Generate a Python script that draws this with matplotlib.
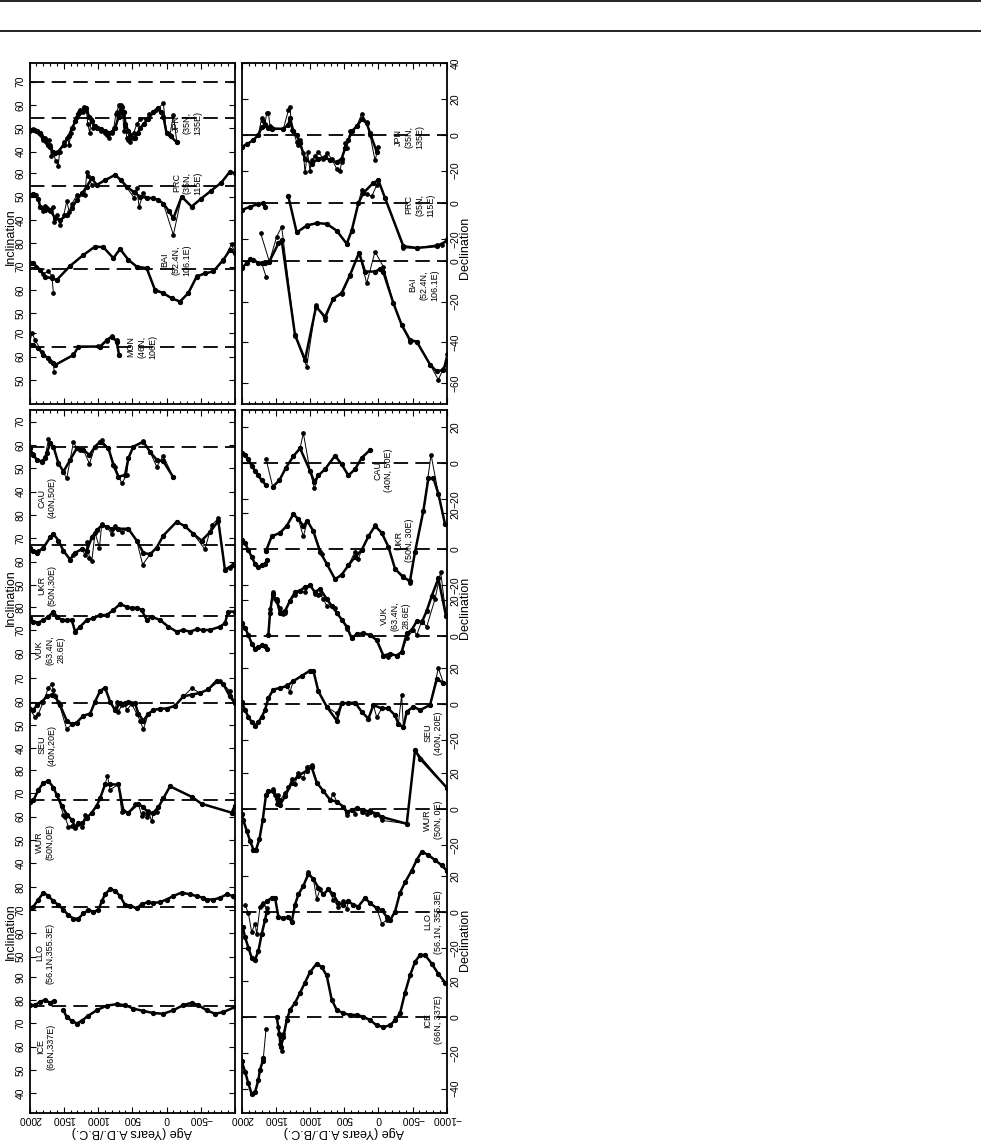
import numpy as np
import matplotlib
matplotlib.use("Agg")
import matplotlib.pyplot as plt
from matplotlib.lines import Line2D
from matplotlib.ticker import MultipleLocator

plt.rcParams['font.family'] = ['Liberation Sans', 'DejaVu Sans']

nan = np.nan
GAP = (nan, nan)

# ---------------- data: (age, value) pairs ----------------
STATIONS = ["JPN", "PRC", "BAI", "MON", "CAU", "UKR", "VUK", "SEU", "WUR", "LLO", "ICE"]
GAD_INC = [54.5, 54.5, 68.9, 64.2, 59.2, 67.2, 75.9, 59.2, 67.2, 71.4, 77.4]

# inclination, top-left panel
JPN_INC = [(2000,49.3),(1940,49.3),(1890,49),(1840,48),(1800,46),(1770,45),(1730,43),(1700,42),(1660,40),
           (1630,39.5),(1580,40),(1500,43),(1430,46.5),(1380,50),(1330,53),(1290,56),(1260,57),(1200,58.5),
           (1170,58.6),(1130,55),(1090,53),(1050,51),(1020,50),(950,49.5),(900,49),(850,48),(800,48.5),
           (750,50),(700,55),(655,59),(620,57),(600,52),(560,49),(530,47),(480,46),(460,46),(420,48),
           (385,50),(330,52),(265,54),(190,57),(120,58.6),(80,57),(45,55),(0,48),(-60,46.5),(-150,44)]
JPN_INC_T = [(2000,49),(1950,49.5),(1900,49),(1860,48),(1830,47),(1800,45),(1780,46),(1760,44),(1720,45),
             (1700,43),(1680,38),(1650,40),(1620,36),(1580,34),(1560,40),(1500,44),(1450,46),(1420,43),
             (1400,48),(1370,50),(1340,53),(1310,55),(1280,57),(1260,58),(1220,57),(1200,59),(1170,58),
             (1150,52),(1120,48),(1100,54),(1070,50),(1040,51),(1000,50),(950,49),(900,48),(870,47),
             (840,46),(800,48),(770,50),(740,56),(720,57),(700,60),(680,57),(660,60),(640,56),(620,49),
             (600,51),(580,46),(560,45),(540,44),(520,46),(480,48),(430,52),(380,54),(300,54),(250,56),
             (200,57),(150,58),(120,58.6),(46,60.7),(0,47.9),(-50,47),(-100,55.7),(-150,44.3)]
PRC_INC = [(2000,50.7),(1950,51),(1917,50.7),(1870,49),(1844,45.7),(1800,45),(1772,44.3),(1700,44.3),
           (1626,40.7),(1553,40),(1456,42),(1380,45),(1310,48.6),(1230,51.5),(1164,54.3),(1091,57.9),
           (1018,55),(900,57),(751,59.3),(660,57),(581,54.3),(480,52),(386,50),(290,49.5),(192,49.3),
           (120,48.5),(46,47),(-30,44),(-100,40.7),(-221,50),(-367,45.7),(-500,49),(-650,52.5),
           (-800,56),(-926,60.7),(-1000,60)]
PRC_INC_T = [(2000,50.7),(1950,51),(1900,50.5),(1844,45.7),(1800,44),(1772,46),(1740,45),(1699,44),
             (1660,45.7),(1640,38.9), GAP, (1600,42),(1553,37.6),(1500,42),(1456,48),(1420,43.5),
             (1380,47),(1310,50.5),(1240,51),(1190,50.5),(1164,60.7),(1140,58.9),(1091,55),(1018,55),
             (900,57),(751,59.3),(581,54),(470,49.3),(435,53.6),(400,45.7),(338,51.4),(290,49.5),
             (192,49.3),(46,47),(-100,33.6),(-221,50),(-367,45.7)]
BAI_INC = [(2000,71.4),(1942,71.4),(1844,68.6),(1772,65.7),(1674,65),(1601,64.3),(1407,70.3),(1213,75),
           (1043,78.6),(921,78.3),(775,73.6),(678,77.6),(557,72.9),(435,70),(289,69.3),(168,60),
           (46,58.6),(-75,56.4),(-197,55),(-318,58.6),(-440,65.7),(-561,67.1),(-683,67.9),(-829,72.9),
           (-926,77.1),(-1000,75.7)]
BAI_INC_T = [(2000,71.5),(1900,70),(1800,67),(1723,67.9),(1674,66),(1650,58.6), GAP, (1601,64.3),
             (1407,70.3),(1213,75),(1043,78.6),(921,78.3),(775,73.6),(678,77.6),(557,72.9),(435,70),
             (289,69.3),(168,59.5),(46,58.6),(-75,56.4),(-197,55),(-318,58.6),(-440,66),(-561,67.1),
             (-683,67.9),(-829,72.5),(-950,79.6),(-1000,75.7)]
MON_INC = [(2000,65),(1942,64.8),(1869,63.6),(1796,60.7),(1723,59.3),(1650,57.1),(1626,56.4),(1358,60.7),
           (1286,64.3),(970,64.3),(872,67.1),(800,68.6),(727,66.4),(693,60.7)]
MON_INC_T = [(2000,65),(1966,70.3),(1918,67.1),(1820,62.1),(1700,58),(1650,57.1),(1640,53.6), GAP,
             (1626,56.4),(1358,61),(1286,64),(1000,64.5),(970,64),(872,66.5),(800,69),(727,67),(693,60.7)]

# declination, top-right panel
JPN_DEC = [(2000,-6.7),(1927,-5.3),(1829,-2.9),(1756,0),(1707,4.2),(1659,5.7),(1610,3.8),(1561,3.4),
           (1390,3.4),(1317,5.7),(1293,9.5),(1244,1.9),(1195,0),(1146,-4.8),(1073,-13.3),(976,-16.2),
           (878,-13.3),(780,-12.4),(707,-14.3),(610,-15.2),(537,-13.3),(488,-7.6),(439,-2.9),(390,1.9),
           (317,4.8),(244,8.6),(171,6.7),(122,1),(24,-9.5)]
JPN_DEC_T = [(1756,0),(1707,9.5),(1683,8),(1659,6),(1634,12.4),(1610,12.4),(1585,5),(1561,4),(1390,3.4),
             (1317,13.7),(1293,15.8),(1268,3),(1244,1.9),(1195,-4),(1170,-5.7),(1146,-2.9),(1098,-10),
             (1073,-21),(1037,-9.5),(1000,-20),(976,-14),(927,-12),(878,-9.5),(805,-13.3),(756,-10),
             (683,-13.3),(610,-19),(561,-20),(537,-15),(488,-4.8),(464,-7.6),(415,1.9),(390,2),(317,4.8),
             (244,11.8),(171,7),(122,0),(49,-14.3),(0,-6.7)]
PRC_DEC = [(2000,-3.8),(1878,-1.9),(1756,-0.4),(1683,0),(1659,-1.9), GAP, (1317,3.8),(1195,-16.2),
           (1049,-12.4),(902,-11),(756,-11.4),(610,-15.2),(463,-22.5),(390,-15.2),(293,0),(220,5.7),
           (73,11.4),(0,12.8),(-98,2.9),(-366,-23.8),(-561,-24.8),(-854,-23.8),(-1000,-21)]
PRC_DEC_T = [(1317,3.8),(1195,-16),(1049,-12),(902,-11),(756,-11.5),(610,-15.5),(463,-22.5),(390,-15),
             (293,0),(244,7.6),(171,5),(98,3.8),(24,10),(0,13),(-98,3),(-366,-24.8),(-561,-25),
             (-854,-23),(-927,-23),(-1000,-20)]
BAI_DEC = [(2000,-3.6),(1927,-1),(1878,0.8),(1829,0.5),(1756,-1),(1707,-1.1),(1659,-1.1), GAP,
           (1595,-0.3),(1463,8.7),(1415,10.3),(1220,-36.4),(1073,-48.7),(912,-22.5),(780,-27.5),
           (659,-18.5),(537,-15.7),(415,-6.9),(283,4.1),(195,-5.2),(49,-5.2),(-24,-4),(-73,-5.5),
           (-220,-20.8),(-341,-31.5),(-463,-38.9),(-561,-39.7),(-756,-51),(-854,-54.4),(-951,-53.6),
           (-1000,-49.5)]
BAI_DEC_T = [(1707,-1.1),(1644,-7.7), GAP, (1722,13.6),(1595,-0.3),(1488,12),(1415,16.9),(1220,-37),
             (1049,-52),(912,-21.6),(780,-29),(659,-18.5),(537,-16.5),(415,-7.5),(283,4.1),(171,-11),
             (49,4.6),(-73,-2.8),(-220,-20.8),(-341,-31.5),(-463,-40),(-561,-39.7),(-756,-51),
             (-878,-58.5),(-951,-53),(-1000,-46)]

# inclination, bottom-left panel
CAU_INC = [(2000,58.6),(1942,55.7),(1893,53.6),(1820,52.9),(1772,54.3),(1747,56.4),(1699,60.7),(1650,59.3),
           (1577,52.1),(1504,48.6),(1407,53.6),(1310,58.6),(1213,57.9),(1125,55.7),(1043,59.3),(970,61.4),
           (848,58.6),(775,51.4),(702,46.4),(605,47.1),(557,54.3),(484,59.3),(338,61.4),(241,57.1),
           (143,53.6),(46,53),(-100,46.1)]
CAU_INC_T = [(2000,58.6),(1942,56),(1893,53.5),(1820,53),(1772,55),(1723,62.4),(1699,61),(1650,59.3),
             (1577,52),(1456,45.7),(1358,61.4),(1310,58.6),(1261,57.9),(1213,57.9),(1125,52),(1043,59.3),
             (945,62),(848,58.6),(751,50.7),(654,43.6),(581,47),(557,54.3),(484,59.3),(338,61.8),
             (241,57.1),(143,50.7),(46,55.3),(-100,46.1)]
UKR_INC = [(2000,66),(1942,64.6),(1893,63.8),(1796,66),(1699,70.4),(1650,71.9),(1577,69),(1504,64.6),
           (1407,60.9),(1334,63.8),(1237,65.3),(1164,64.6),(1091,70.4),(1018,73.4),(945,75.6),(872,74.9),
           (800,74.1),(702,74.1),(557,74.1),(435,69),(338,63.8),(241,63.1),(143,66),(46,71.2),(-148,77.1),
           (-270,75.2),(-391,71.9),(-513,69),(-634,72.6),(-756,77.5),(-853,56.5),(-975,58.7)]
UKR_INC_T = [(2000,66),(1942,64.6),(1869,64.6),(1796,66),(1699,70.4),(1650,71.9),(1577,69),(1504,64.6),
             (1407,60.9),(1358,63),(1334,63.8),(1237,65.3),(1188,63),(1154,68.2),(1125,61.6),(1091,60.1),
             (1043,72.4),(979,66),(945,76.2),(872,74.9),(800,71.9),(751,75.2),(654,72.6),(557,74.1),
             (435,69),(348,58.7),(241,63.1),(143,66),(46,71.2),(-148,77.1),(-270,75.2),(-391,71.9),
             (-561,65.3),(-658,75.6),(-756,78.5),(-853,56.5),(-926,57.2),(-975,58.7)]
VUK_INC = [(2000,75),(1942,73.6),(1869,73.2),(1796,74.3),(1723,75.7),(1650,77.9),(1601,75.7),(1528,74.3),
           (1456,74.3),(1383,74.3),(1334,69.3),(1261,71.4),(1164,74.3),(1067,75),(970,76.4),(872,76.4),
           (775,78.6),(678,81.1),(581,80),(508,79.3),(435,79.6),(362,78.6),(289,74.3),(216,75.7),
           (95,74.3),(-27,71.4),(-148,69.3),(-245,70),(-343,69.3),(-440,70.3),(-537,70),(-634,70),
           (-780,71.4),(-853,72.9),(-901,77.9),(-1000,77.9)]
SEU_INC = [(2000,57),(1942,56.3),(1893,58.5),(1820,60),(1747,62.2),(1674,63),(1626,62.2),(1553,58.5),
           (1456,51.8),(1383,50.3),(1310,51),(1213,54),(1115,54.8),(1043,60),(970,64.5),(897,66),
           (824,60),(751,56.3),(678,59.3),(605,59.3),(557,60),(459,59.3),(411,54.8),(338,51.8),
           (265,54.8),(192,56.3),(95,57),(-2,57),(-124,58.2),(-245,62.2),(-367,63),(-488,63.7),
           (-610,65.2),(-731,69),(-829,67.5),(-926,62.2),(-1000,59.3)]
SEU_INC_T = [(2000,57),(1918,53.3),(1869,54.8),(1796,60),(1723,66),(1674,67.5),(1650,64.8),(1577,60),
             (1456,48.1),(1383,50.3),(1310,51),(1213,54),(1115,54.8),(1043,60),(970,64.5),(897,66),
             (824,60),(751,56.3),(727,60),(702,55.5),(654,58.5),(605,59),(581,56.3),(508,59),(435,54.8),
             (386,51.8),(338,48.1),(265,54.8),(192,56.3),(95,57),(-2,57),(-124,58.2),(-245,62.2),
             (-367,65.7),(-488,63.7),(-610,65.2),(-780,69),(-926,64.5),(-1000,59.3)]
WUR_INC = [(2000,66.2),(1942,67),(1869,71.5),(1796,74.5),(1723,75.3),(1650,72.4),(1601,69.2),(1528,64.7),
           (1456,60.9),(1383,58.6),(1334,55.6),(1286,57.1),(1237,57.1),(1164,59.4),(1091,61.7),(1018,64.7),
           (970,67.8),(897,73.8),(824,73.8),(702,73.8),(629,62.4),(557,61.7),(411,65.5),(338,64),
           (265,61.7),(192,61.7),(119,64),(46,67.8),(-51,73),(-367,68.5),(-513,65.5),(-950,61.7),
           (-1000,64.7)]
WUR_INC_T = [(2000,66.2),(1942,67),(1869,71.5),(1796,74.5),(1723,75.3),(1650,72.4),(1601,69.2),(1504,60.9),
             (1480,59.7),(1431,55.6),(1383,56),(1334,55.2),(1286,57),(1237,55.6),(1188,60.9),(1164,59.4),
             (1091,61.7),(1018,64.7),(970,67.8),(897,73.8),(862,77.6),(824,71.5),(702,73.8),(654,62),
             (557,61.7),(459,65.5),(411,65.5),(362,60.2),(338,61.7),(289,60),(265,62.4),(216,57.9),
             (192,61.7),(143,62),(119,64),(46,67.8),(-51,73),(-367,68.5),(-513,65.5),(-950,61.7),
             (-1000,64.7)]
LLO_INC = [(2000,70.7),(1942,71.5),(1869,74.5),(1796,77.5),(1723,76),(1650,73.7),(1577,72.2),(1504,70),
           (1431,67.8),(1358,66.3),(1286,66.3),(1213,68.5),(1140,70),(1067,69.2),(994,70),(945,73.7),
           (897,76.7),(824,79),(751,78.3),(678,76),(605,72.2),(532,71.9),(435,70.7),(362,72.5),
           (265,73.4),(192,73),(95,73.4),(-2,74.5),(-100,76),(-221,77.5),(-343,76.7),(-440,76),
           (-537,75.2),(-585,74.5),(-683,74.5),(-780,75.2),(-877,76.7),(-975,76),(-1000,75.5)]
ICE_INC = [(2000,77.8),(1918,77.8),(1844,79.3),(1772,80),(1699,78.8),(1644,79.7), GAP, (1504,75.6),
           (1456,72.6),(1383,71.1),(1310,69.9),(1237,71.1),(1140,73.3),(1018,75.6),(872,77.6),(727,78.2),
           (605,77.8),(484,76.3),(338,75.3),(192,74.4),(46,74.1),(-100,75.6),(-245,77.8),(-367,78.8),
           (-464,77.8),(-585,75.6),(-707,74.1),(-829,74.8),(-1000,77)]

# declination, bottom-right panel
CAU_DEC = [(2000,5.4),(1951,4.5),(1902,1.8),(1854,-1.8),(1805,-4.5),(1756,-7.1),(1707,-9.8),(1644,-12.5),
           GAP, (1546,-13.4),(1449,-9.8),(1351,-2.7),(1244,3.6),(1146,8),(1000,-4.5),(937,-10.7),
           (878,-7.1),(780,-3.6),(634,3.9),(537,-0.9),(439,-7.1),(341,-3.6),(244,2.7),(122,7.1)]
CAU_DEC_T = [(1644,2.1),(1546,-13.4),(1449,-9.8),(1351,-2.7),(1244,3.6),(1146,8),(1098,16.4),(1000,-4.5),
             (937,-14.3),(878,-7.1),(780,-3.6),(634,3.9),(537,-0.9),(439,-7.1),(341,-3.6),(244,2.7),
             (122,7.1)]
UKR_DEC = [(2000,5.1),(1951,3.2),(1902,-0.6),(1854,-4.4),(1805,-8.2),(1756,-10.1),(1707,-9.1),(1659,-8.6),
           (1634,-6.3), GAP, (1644,-1),(1561,7),(1439,9),(1341,12.8),(1244,19.4),(1171,16.6),(1098,12.8),
           (1039,15.6),(951,9.9),(854,-1.5),(756,-8.2),(634,-16.8),(537,-14.3),(439,-9.1),(341,-4.4),
           (244,-0.6),(146,7),(49,12.8),(-49,9),(-146,1.3),(-244,-11),(-366,-15.8),(-463,-17.7),
           (-537,-1.5),(-659,21.3),(-732,39.4),(-805,39.4),(-878,30.7),(-976,13.7)]
UKR_DEC_T = [(1644,-1),(1561,7),(1439,9),(1341,12.8),(1244,19.4),(1171,16.6),(1098,7),(1039,15.6),
             (951,9.9),(829,-2.5),(756,-8.2),(634,-16.8),(537,-14.3),(439,-9.1),(341,-1.5),(293,-5.3),
             (244,-0.6),(146,7),(49,13.3),(-49,9),(-146,1.3),(-244,-11),(-366,-15),(-463,-19),(-537,-1.5),
             (-659,21.3),(-771,52.4),(-878,30.7),(-976,13.7)]
VUK_DEC = [(2000,7),(1951,4.2),(1902,0.4),(1854,-4.4),(1805,-7.2),(1756,-6.3),(1707,-5.3),(1659,-5.9),
           (1624,-7.2), GAP, (1610,0.4),(1585,12.8),(1546,23.2),(1488,19.4),(1439,12.8),(1366,13.7),
           (1293,19.4),(1220,24.2),(1146,25.1),(1073,27),(1000,28),(927,24.2),(854,26.1),(756,20.4),
           (683,16.6),(610,12.8),(537,9),(463,5.1),(390,-1.5),(317,1),(220,1.3),(122,0.4),(24,-2.5),
           (-73,-11),(-171,-10.1),(-268,-11),(-341,-9.1),(-415,1.3),(-488,3.2),(-561,8),(-634,7.4),
           (-707,13.7),(-780,22),(-878,31.8),(-990,10.9)]
VUK_DEC_T = [(1610,0.4),(1585,15),(1546,24.2),(1512,20.4),(1488,20.4),(1439,15.6),(1390,11.8),(1366,12.8),
             (1293,19.4),(1220,22.4),(1146,25.1),(1073,24.2),(1000,28),(927,23.2),(878,22.4),(854,23.2),
             (805,20.4),(756,16.6),(634,15.6),(610,12.8),(537,9),(463,4),(390,-1.5),(317,1),(220,1.3),
             (122,0.4),(24,-2.5),(-73,-11),(-146,-12),(-171,-10.1),(-268,-11),(-341,-9.1),(-415,-1.5),
             (-512,3.2),(-561,0.4),(-634,8),(-707,5),(-829,20.4),(-912,35.6),(-990,10.9)]
SEU_DEC = [(2000,1.5),(1951,-3.2),(1902,-7),(1854,-9.9),(1805,-11.8),(1756,-9.9),(1707,-7),(1659,-3.2),
           (1610,3.4),(1537,8.2),(1439,9.1),(1341,10.1),(1244,12.9),(1122,15.8),(1000,18.7),(951,18.7),
           (878,7.2),(756,-1.3),(610,-9),(537,0.6),(439,0.6),(341,1),(244,-4.2),(146,-8),(73,-0.4),
           (-49,-2.3),(-146,-2.3),(-244,-6.1),(-293,-10.9),(-366,-12.8),(-415,-4.2),(-512,-1.3),
           (-610,-3.2),(-756,-0.4),(-854,13.9),(-951,12)]
SEU_DEC_T = [(1610,3.4),(1537,8.2),(1439,9.1),(1341,10.5),(1293,7),(1244,12.9),(1122,15.8),(1000,18.7),
             (951,18.7),(878,7.2),(756,-1.3),(610,-5),(537,0.6),(439,0.6),(341,1),(244,-4.2),(146,-8),
             (73,-0.4),(24,-7.2),(-49,-2.3),(-146,-2.3),(-244,-6.1),(-293,-10.9),(-341,5.3),(-366,-12.8),
             (-415,-4.2),(-512,-1.3),(-610,-3.2),(-756,-0.4),(-878,20),(-951,12)]
WUR_DEC = [(2000,-3),(1976,-6.3),(1927,-12),(1878,-17.7),(1829,-22.5),(1790,-22.5),(1741,-16.8),(1693,-6.3),
           (1644,8),(1610,9.9),(1537,9.9),(1488,6.1),(1439,2.3),(1366,7),(1268,14.7),(1171,18.5),
           (1049,21.3),(976,23.2),(902,14.7),(805,10),(707,5.1),(610,4.1),(512,1.3),(463,-1.5),(390,-0.6),
           (317,0.4),(220,-0.6),(122,-1.5),(24,-2.5),(-49,-4.4),(-415,-8.2),(-537,32.7),(-610,28),
           (-1000,11.9)]
WUR_DEC_T = [(1693,-6.3),(1644,8),(1610,9.9),(1537,10.9),(1512,8),(1488,2.9),(1463,7.6),(1439,4.8),
             (1366,9),(1317,12),(1268,16.5),(1220,14),(1171,20),(1098,17),(1049,23.5),(976,24.5),
             (902,14.7),(707,5.1),(659,8.5),(610,4.1),(512,1.3),(463,-3.4),(390,-0.6),(341,-2.5),
             (317,0.4),(244,-1.5),(220,-1.5),(171,-2.9),(122,-0.6),(49,-3.4),(24,-2.5),(-49,-6.3),
             (-415,-8.2),(-537,32.7),(-1000,11.9)]
LLO_DEC = [(1985,-8.2),(1951,-13.9),(1902,-19.6),(1854,-25.3),(1805,-26.3),(1756,-21.5),(1707,-12),
           (1659,-4.4),(1634,0.4), GAP, (1634,6.1),(1561,8),(1512,8),(1463,-2.5),(1390,-3.4),(1317,-2.5),
           (1268,-5.3),(1220,4.2),(1171,9.9),(1098,14.7),(1024,21.3),(951,18.5),(878,13.7),(805,9.9),
           (732,12.8),(659,9.9),(585,5.1),(512,4.2),(439,6.1),(366,4.2),(293,3.2),(195,8),(122,5.1),
           (24,2.3),(-49,1.3),(-122,-2.5),(-171,-4.4),(-244,0.4),(-317,10.9),(-390,16.6),(-488,23.2),
           (-561,29),(-634,33.7),(-732,31.8),(-829,29),(-927,26.1),(-1000,23.2)]
LLO_DEC_T = [(1951,4.2),(1902,-0.6),(1854,-11),(1805,-6.3),(1780,-12),(1732,3.2),(1707,4.2),(1683,5.1),
             (1634,2.3), GAP, (1634,6.1),(1561,8),(1512,8),(1463,-2.5),(1390,-3.4),(1317,-2.5),
             (1268,-5.3),(1220,4.2),(1171,9.9),(1098,14.7),(1024,22.3),(951,18.5),(902,7.2),(854,12.8),
             (805,9.9),(732,12.8),(659,7),(585,3),(512,6.1),(463,2),(439,6.1),(366,4.2),(293,3.2),
             (195,8),(122,5.1),(24,2.3),(-49,-6.3),(-122,-4.4),(-171,-4.4),(-244,0.4)]
ICE_DEC = [(2000,-24.8),(1951,-30.5),(1902,-37.1),(1854,-42.9),(1805,-41.9),(1756,-35.2),(1732,-29.5),
           (1693,-24.8),(1683,-22.9), GAP, (1488,0),(1449,-9.5),(1429,-17),(1390,-11.4),(1341,-1.9),
           (1293,3.8),(1220,7.6),(1146,13.3),(1073,19),(1000,24.8),(902,29.5),(829,27.6),(756,22.9),
           (683,9.5),(610,3.8),(512,1.9),(415,1),(317,1),(220,0),(122,-1.9),(24,-4.8),(-73,-5.7),
           (-171,-4.8),(-244,-1.9),(-317,1.9),(-390,13.3),(-463,22.9),(-537,30.5),(-610,34.3),
           (-683,34.3),(-780,29.5),(-878,23.8),(-976,19)]
ICE_DEC_T = [(1683,-22.9),(1644,-6.7), GAP, (1488,0),(1463,-5.7),(1439,-15.2),(1414,-19),(1390,-9.5),
             (1341,-1.9)]

AGE_TICKS = [2000, 1500, 1000, 500, 0, -500, -1000]

# ---------------- layout ----------------
W, H = 981, 1140
fig = plt.figure(figsize=(W / 100, H / 100), dpi=100)

TL = (29.5, 63.3, 235.0, 404.3)
TR = (241.7, 63.3, 446.7, 404.3)
BL = (29.5, 410.0, 235.0, 1113.0)
BR = (241.7, 410.0, 446.7, 1113.0)
INC_SCALE = 2.33   # px per degree
DEC_SCALE = 1.8


def rect(box):
    x0, y0, x1, y1 = box
    return [x0 / W, 1 - y1 / H, (x1 - x0) / W, (y1 - y0) / H]


def xy(pairs):
    a = np.array(pairs, dtype=float)
    return a[:, 0], a[:, 1]


def frame(box, labels, hide_last=False):
    ax = fig.add_axes(rect(box))
    ax.set_xlim(2000, -1000)
    ax.set_yticks([])
    ax.set_xticks(AGE_TICKS)
    ax.xaxis.set_minor_locator(MultipleLocator(100))
    ax.tick_params(axis='x', which='both', direction='in', top=True, bottom=True,
                   labelbottom=labels, labelsize=7.5, pad=1, width=0.8)
    ax.tick_params(axis='x', which='major', length=4)
    ax.tick_params(axis='x', which='minor', length=2.5)
    if labels:
        txt = [str(t).replace('-', '\u2212') for t in AGE_TICKS]
        if hide_last:
            txt[-1] = ''
        ax.set_xticklabels(txt, rotation=180)
    for s in ax.spines.values():
        s.set_linewidth(1.3)
    return ax


def station(box, anchor_val, anchor_py, scale, ticks, ref, side, thick, thin=None):
    x0, y0, x1, y1 = box
    ax = fig.add_axes(rect(box), facecolor='none')
    ax.set_xlim(2000, -1000)
    ax.set_ylim(anchor_val - (y1 - anchor_py) / scale, anchor_val + (anchor_py - y0) / scale)
    for s in ax.spines.values():
        s.set_visible(False)
    ax.set_xticks([])
    ax.set_yticks(ticks)
    ax.set_yticklabels([f"{t:g}".replace('-', '\u2212') for t in ticks])
    ax.tick_params(axis='y', direction='in', length=4, width=0.8, left=True, right=True,
                   labelleft=(side == 'left'), labelright=(side == 'right'),
                   labelrotation=90, labelsize=7.5, pad=3)
    for lab in ax.get_yticklabels():
        lab.set_va('center')
    ax.axhline(ref, color='k', lw=1.3, dashes=(8, 4))
    if thin is not None:
        a, v = xy(thin)
        ax.plot(a, v, '-o', color='k', lw=0.7, ms=2.4)
    a, v = xy(thick)
    ax.plot(a, v, '-o', color='k', lw=1.8, ms=2.8)
    return ax


frame(TL, False)
frame(TR, False)
frame(BL, True, hide_last=True)
frame(BR, True)

# inclination stations
jpn = station(TL, 70, 81.7, INC_SCALE, [70, 60, 50, 40], GAD_INC[0], 'left', JPN_INC, JPN_INC_T)
jpn.axhline(70, color='k', lw=1.3, dashes=(8, 4))
station(TL, 60, 173.3, INC_SCALE, [60, 50, 40], GAD_INC[1], 'left', PRC_INC, PRC_INC_T)
station(TL, 80, 243.3, INC_SCALE, [80, 70, 60, 50], GAD_INC[2], 'left', BAI_INC, BAI_INC_T)
station(TL, 70, 333.3, INC_SCALE, [70, 60, 50], GAD_INC[3], 'left', MON_INC, MON_INC_T)

station(BL, 70, 421.7, INC_SCALE, [70, 60, 50, 40], GAD_INC[4], 'left', CAU_INC, CAU_INC_T)
station(BL, 80, 515.0, INC_SCALE, [80, 70, 60, 50], GAD_INC[5], 'left', UKR_INC, UKR_INC_T)
station(BL, 80, 606.7, INC_SCALE, [80, 70, 60], GAD_INC[6], 'left', VUK_INC)
station(BL, 70, 678.3, INC_SCALE, [70, 60, 50, 40], GAD_INC[7], 'left', SEU_INC, SEU_INC_T)
station(BL, 70, 793.3, INC_SCALE, [80, 70, 60, 50, 40], GAD_INC[8], 'left', WUR_INC, WUR_INC_T)
station(BL, 80, 886.7, INC_SCALE, [80, 70, 60, 50], GAD_INC[9], 'left', LLO_INC)
station(BL, 80, 1000.0, INC_SCALE, [90, 80, 70, 60, 50, 40], GAD_INC[10], 'left', ICE_INC)

# declination stations
station(TR, 0, 133.3, DEC_SCALE, [40, 20, 0, -20], 0, 'right', JPN_DEC, JPN_DEC_T)
station(TR, 0, 203.3, DEC_SCALE, [0, -20], 0, 'right', PRC_DEC, PRC_DEC_T)
station(TR, 0, 261.0, 2.03, [0, -20, -40, -60], 0, 'right', BAI_DEC, BAI_DEC_T)

station(BR, 0, 462.7, DEC_SCALE, [20, 0, -20], 0, 'right', CAU_DEC, CAU_DEC_T)
station(BR, 0, 549.0, DEC_SCALE, [20, 0, -20], 0, 'right', UKR_DEC, UKR_DEC_T)
station(BR, 0, 635.7, DEC_SCALE, [20, 0], 0, 'right', VUK_DEC, VUK_DEC_T)
station(BR, 0, 704.3, DEC_SCALE, [20, 0, -20], 0, 'right', SEU_DEC, SEU_DEC_T)
station(BR, 0, 809.0, DEC_SCALE, [20, 0, -20], 0, 'right', WUR_DEC, WUR_DEC_T)
station(BR, 0, 912.3, DEC_SCALE, [20, 0, -20], 0, 'right', LLO_DEC, LLO_DEC_T)
station(BR, 0, 1016.7, DEC_SCALE, [20, 0, -20, -40], 0, 'right', ICE_DEC, ICE_DEC_T)


def ftext(x, y, s, size, **kw):
    fig.text(x / W, 1 - y / H, s, fontsize=size, ha='center', va='center', **kw)


# axis titles
for yy in (237, 598, 932):
    ftext(11, yy, 'Inclination', 9, rotation=90)
for yy in (248, 608, 940):
    ftext(465, yy, 'Declination', 9, rotation=90)
ftext(132, 1132, 'Age (Years A.D./B.C.)', 9, rotation=180)
ftext(344, 1132, 'Age (Years A.D./B.C.)', 9, rotation=180)

# station labels
LABELS = [
    (187, 123, "JPN\n(35N,\n135E)"), (187, 183, "PRC\n(35N,\n115E)"),
    (176, 260, "BAI\n(52.4N,\n106.1E)"), (142, 347, "MON\n(46N,\n106E)"),
    (409, 137, "JPN\n(35N,\n135E)"), (420, 205, "PRC\n(35N,\n115E)"),
    (424, 285, "BAI\n(52.4N,\n106.1E)"),
    (47, 498, "CAU\n(40N,50E)"), (47, 585, "UKR\n(50N,30E)"), (50, 650, "VUK\n(63.4N,\n28.6E)"),
    (47, 745, "SEU\n(40N,20E)"), (45, 842, "WUR\n(50N,0E)"), (45, 953, "LLO\n(56.1N,355.3E)"),
    (46, 1047, "ICE\n(66N,337E)"),
    (383, 470, "CAU\n(40N, 50E)"), (404, 540, "UKR\n(50N, 30E)"), (395, 616, "VUK\n(63.4N,\n28.6E)"),
    (433, 733, "SEU\n(40N, 20E)"), (433, 820, "WUR\n(50N, 0E)"), (433, 922, "LLO\n(56.1N, 355.3E)"),
    (433, 1020, "ICE\n(66N, 337E)"),
]
for x, y, s in LABELS:
    ftext(x, y, s, 6.5, rotation=90, linespacing=1.25, multialignment='center')

# page header rules
for yy in (0.8, 31.0):
    fig.add_artist(Line2D([0, 1], [1 - yy / H, 1 - yy / H], color='k', lw=1.2,
                          transform=fig.transFigure))

fig.savefig('out.png', dpi=100)
